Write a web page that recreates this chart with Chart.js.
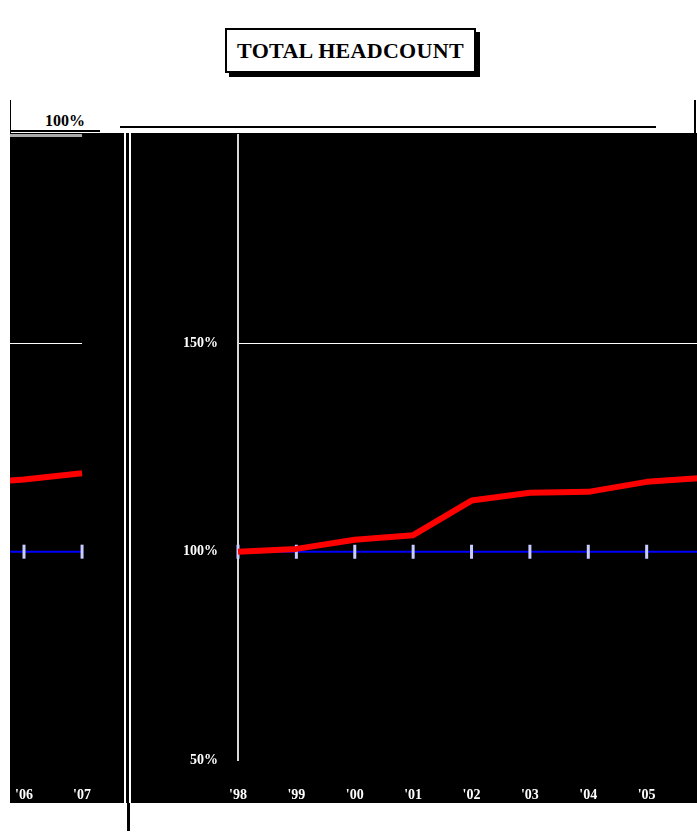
<!DOCTYPE html>
<html>
<head>
<meta charset="utf-8">
<script src="https://cdn.jsdelivr.net/npm/chart.js@4.4.1/dist/chart.umd.min.js"></script>
<style>
  html, body { margin:0; padding:0; background:#fff; width:697px; height:839px; overflow:hidden; position:relative; }
  .abs { position:absolute; }
  #black { left:10px; top:133px; width:700px; height:670px; background:#000; overflow:hidden; }
  #title { left:225px; top:28px; width:247px; height:41px; border:2px solid #000; background:#fff;
           box-shadow:4px 4px 0 #000; font-family:"Liberation Serif","Times New Roman",serif; font-weight:bold;
           font-size:22px; line-height:41px; text-align:center; color:#000; letter-spacing:0.3px; }
  #pct { left:45px; top:112px; font-family:"Liberation Serif",serif; font-weight:bold; font-size:16px; color:#000; }
</style>
</head>
<body>
<div id="title" class="abs">TOTAL HEADCOUNT</div>
<div id="pct" class="abs">100%</div>
<div class="abs" style="left:10px;top:100px;width:1px;height:34px;background:#000"></div>
<div class="abs" style="left:694px;top:100px;width:2px;height:34px;background:#000"></div>
<div class="abs" style="left:120px;top:126px;width:536px;height:2px;background:#000"></div>
<div class="abs" style="left:10px;top:130px;width:90px;height:2px;background:#000"></div>
<div id="black" class="abs">
  <canvas id="left" class="abs" style="left:-80px;top:-8px;"></canvas>
  <canvas id="main" class="abs" style="left:120px;top:-26px;"></canvas>
  <div class="abs" style="left:114px;top:0;width:2px;height:670px;background:#fff"></div>
  <div class="abs" style="left:119px;top:0;width:2px;height:670px;background:#fff"></div>
</div>
<div class="abs" style="left:127px;top:803px;width:3px;height:28px;background:#000"></div>
<script>
// ---- data ----
const mainLabels   = ["'98", "'99", "'00", "'01", "'02", "'03", "'04", "'05", "'06"];
const mainValues   = [100.0, 100.7, 102.9, 104.0, 112.3, 114.2, 114.4, 116.8, 117.8];
const mainBaseline = [100, 100, 100, 100, 100, 100, 100, 100, 100];
const leftLabels   = ["'05", "'06", "'07"];
const leftValues   = [116.3, 117.3, 118.8];
const leftBaseline = [100, 100, 100];
const yTicks       = [50, 100, 150, 200];

const serif = '"Liberation Serif","Times New Roman",serif';

function makeChart(id, w, h, labels, values, base, yWidth, padL, padR, showYLabels) {
  const c = document.getElementById(id);
  c.width = w; c.height = h;
  c.style.width = w + 'px'; c.style.height = h + 'px';
  return new Chart(c, {
    type: 'line',
    data: {
      labels: labels,
      datasets: [
        { data: values, borderColor: '#ff0000', borderWidth: 6, pointRadius: 0, tension: 0, order: 0, borderJoinStyle: 'round' },
        { data: base, borderColor: '#0000ff', borderWidth: 2, tension: 0, order: 1,
          pointStyle: 'line', rotation: 90, pointRadius: 7, pointBorderWidth: 3,
          pointBorderColor: '#c8ccff', pointBackgroundColor: '#c8ccff', pointHoverRadius: 7 }
      ]
    },
    options: {
      responsive: false, animation: false, devicePixelRatio: 1,
      layout: { padding: { top: 4, right: padR, left: padL, bottom: 0 } },
      plugins: { legend: { display: false }, tooltip: { enabled: false }, title: { display: false } },
      scales: {
        x: {
          type: 'category', offset: false,
          grid: { display: false, drawTicks: false },
          border: { display: false },
          ticks: { color: '#fff', font: { family: serif, size: 14, weight: 'bold' }, padding: 27,
                   maxRotation: 0, autoSkip: false },
          afterFit: s => { s.height = 43; }
        },
        y: {
          min: 50, max: 200,
          afterBuildTicks: s => { s.ticks = yTicks.map(v => ({ value: v })); },
          grid: {
            drawTicks: false,
            color: ctx => ctx.tick && ctx.tick.value === 150 ? '#ffffff'
                        : (!showYLabels && ctx.tick && ctx.tick.value === 200 ? '#aaaaaa' : 'rgba(0,0,0,0)'),
            lineWidth: ctx => ctx.tick && ctx.tick.value === 200 ? 3 : 1
          },
          border: showYLabels ? { display: true, color: '#d8d8d8', width: 2 } : { display: false },
          ticks: {
            display: showYLabels, color: '#fff', padding: 20,
            font: { family: serif, size: 14, weight: 'bold' },
            callback: v => v === 200 ? '' : v + '%'
          },
          afterFit: s => { s.width = yWidth; }
        }
      }
    }
  });
}

// main chart: chart area page-x 238..705
makeChart('main', 611, 696, mainLabels, mainValues, mainBaseline, 108, 0, 0, true);
// left partial panel: chart area page-x -34..82
makeChart('left', 188, 678, leftLabels, leftValues, leftBaseline, 0, 6, 22, false);
</script>
</body>
</html>
